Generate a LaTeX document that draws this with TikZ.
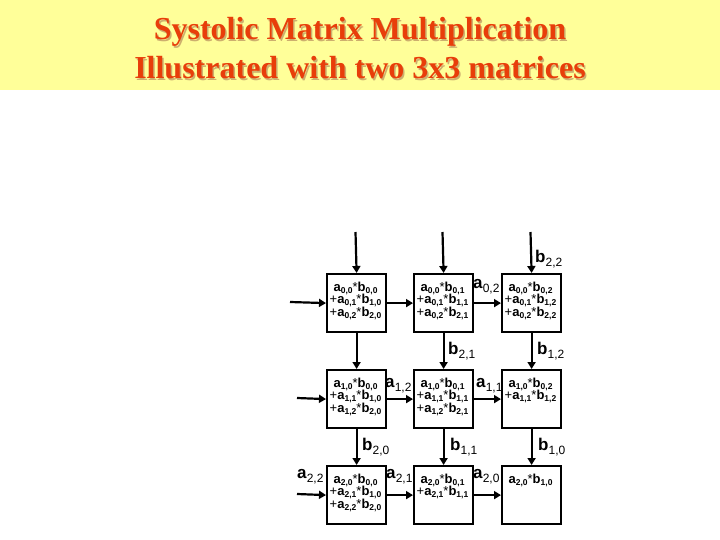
\documentclass[tikz,border=0pt]{standalone}
\usepackage{fontspec}
\setmainfont{Liberation Serif}
\newfontfamily\arial{Liberation Sans}
\usetikzlibrary{arrows.meta}
\definecolor{banner}{HTML}{FFFF99}
\definecolor{titlered}{RGB}{232,62,10}
\definecolor{shadowc}{RGB}{205,175,110}
\newcommand\mlab[2]{\textbf{#1}\raisebox{-4.5pt}{\fontsize{12}{12}\selectfont #2}}
\newcommand\mt[2]{\textbf{#1}\raisebox{-2pt}{\fontsize{8.5}{8.5}\selectfont\bfseries #2}}
\begin{document}
\begin{tikzpicture}[x=1pt,y=-1pt,
  pe/.style={draw=black,line width=2.2pt,minimum width=59pt,minimum height=58pt,inner sep=0pt,anchor=north west},
  conn/.style={line width=2.2pt,-{Triangle[length=7pt,width=8pt]}},
  lab/.style={anchor=base west,inner sep=0pt,font=\arial\fontsize{17}{17}\selectfont},
  ptxt/.style={anchor=base,inner sep=0pt,font=\arial\fontsize{13}{13}\selectfont},
  ttl/.style={anchor=base,inner sep=0pt,font=\fontsize{32}{32}\selectfont\bfseries}]
\useasboundingbox (0,0) rectangle (720,540);
\fill[banner] (0,0) rectangle (720,90);
% title
\node[ttl,text=shadowc] (s1) at (361.5,41.5) {Systolic Matrix Multiplication};
\node[ttl,text=shadowc] (s2) at (361.5,80.5) {Illustrated with two 3x3 matrices};
\node[ttl,text=titlered] (t1) at (360,40) {Systolic Matrix Multiplication};
\node[ttl,text=titlered] (t2) at (360,79) {Illustrated with two 3x3 matrices};
% boxes
\node[pe] (r1c1) at (326,273) {};
\node[pe] (r1c2) at (413,273) {};
\node[pe] (r1c3) at (501,273) {};
\node[pe] (r2c1) at (326,369) {};
\node[pe] (r2c2) at (413,369) {};
\node[pe] (r2c3) at (501,369) {};
\node[pe] (r3c1) at (326,465) {};
\node[pe] (r3c2) at (413,465) {};
\node[pe] (r3c3) at (501,465) {};
% free ends
\coordinate (top1) at (355.5,232);
\coordinate (top2) at (442.5,232);
\coordinate (top3) at (530.5,232);
\coordinate (lft1) at (290,302);
\coordinate (lft2) at (297,398);
\coordinate (lft3) at (297,494);
% vertical connectors
\draw[conn] (top1) -- (r1c1.north);
\draw[conn] (top2) -- (r1c2.north);
\draw[conn] (top3) -- (r1c3.north);
\draw[conn] (r1c1.south) -- (r2c1.north);
\draw[conn] (r1c2.south) -- (r2c2.north);
\draw[conn] (r1c3.south) -- (r2c3.north);
\draw[conn] (r2c1.south) -- (r3c1.north);
\draw[conn] (r2c2.south) -- (r3c2.north);
\draw[conn] (r2c3.south) -- (r3c3.north);
% horizontal connectors
\draw[conn] (lft1) -- (r1c1.west);
\draw[conn] (r1c1.east) -- (r1c2.west);
\draw[conn] (r1c2.east) -- (r1c3.west);
\draw[conn] (lft2) -- (r2c1.west);
\draw[conn] (r2c1.east) -- (r2c2.west);
\draw[conn] (r2c2.east) -- (r2c3.west);
\draw[conn] (lft3) -- (r3c1.west);
\draw[conn] (r3c1.east) -- (r3c2.west);
\draw[conn] (r3c2.east) -- (r3c3.west);
% labels
\node[lab] (lb22) at (535,262) {\mlab{b}{2,2}};
\node[lab] (la02) at (473,288) {\mlab{a}{0,2}};
\node[lab] (lb21) at (448,354) {\mlab{b}{2,1}};
\node[lab] (lb12) at (537,354) {\mlab{b}{1,2}};
\node[lab] (la12) at (385,387) {\mlab{a}{1,2}};
\node[lab] (la11) at (476,387) {\mlab{a}{1,1}};
\node[lab] (lb20) at (362,450) {\mlab{b}{2,0}};
\node[lab] (lb11) at (450,450) {\mlab{b}{1,1}};
\node[lab] (lb10) at (538,450) {\mlab{b}{1,0}};
\node[lab] (la22) at (297,478) {\mlab{a}{2,2}};
\node[lab] (la21) at (386,478) {\mlab{a}{2,1}};
\node[lab] (la20) at (473,478) {\mlab{a}{2,0}};
% box texts row 1
\node[ptxt] (x111) at (355.5,291) {\mt{a}{0,0}*\mt{b}{0,0}};
\node[ptxt] (x112) at (355.5,303.5) {+\mt{a}{0,1}*\mt{b}{1,0}};
\node[ptxt] (x113) at (355.5,316) {+\mt{a}{0,2}*\mt{b}{2,0}};
\node[ptxt] (x121) at (442.5,291) {\mt{a}{0,0}*\mt{b}{0,1}};
\node[ptxt] (x122) at (442.5,303.5) {+\mt{a}{0,1}*\mt{b}{1,1}};
\node[ptxt] (x123) at (442.5,316) {+\mt{a}{0,2}*\mt{b}{2,1}};
\node[ptxt] (x131) at (530.5,291) {\mt{a}{0,0}*\mt{b}{0,2}};
\node[ptxt] (x132) at (530.5,303.5) {+\mt{a}{0,1}*\mt{b}{1,2}};
\node[ptxt] (x133) at (530.5,316) {+\mt{a}{0,2}*\mt{b}{2,2}};
% row 2
\node[ptxt] (x211) at (355.5,387) {\mt{a}{1,0}*\mt{b}{0,0}};
\node[ptxt] (x212) at (355.5,399.5) {+\mt{a}{1,1}*\mt{b}{1,0}};
\node[ptxt] (x213) at (355.5,412) {+\mt{a}{1,2}*\mt{b}{2,0}};
\node[ptxt] (x221) at (442.5,387) {\mt{a}{1,0}*\mt{b}{0,1}};
\node[ptxt] (x222) at (442.5,399.5) {+\mt{a}{1,1}*\mt{b}{1,1}};
\node[ptxt] (x223) at (442.5,412) {+\mt{a}{1,2}*\mt{b}{2,1}};
\node[ptxt] (x231) at (530.5,387) {\mt{a}{1,0}*\mt{b}{0,2}};
\node[ptxt] (x232) at (530.5,399.5) {+\mt{a}{1,1}*\mt{b}{1,2}};
% row 3
\node[ptxt] (x311) at (355.5,483) {\mt{a}{2,0}*\mt{b}{0,0}};
\node[ptxt] (x312) at (355.5,495.5) {+\mt{a}{2,1}*\mt{b}{1,0}};
\node[ptxt] (x313) at (355.5,508) {+\mt{a}{2,2}*\mt{b}{2,0}};
\node[ptxt] (x321) at (442.5,483) {\mt{a}{2,0}*\mt{b}{0,1}};
\node[ptxt] (x322) at (442.5,495.5) {+\mt{a}{2,1}*\mt{b}{1,1}};
\node[ptxt] (x331) at (530.5,483) {\mt{a}{2,0}*\mt{b}{1,0}};
\end{tikzpicture}
\end{document}
